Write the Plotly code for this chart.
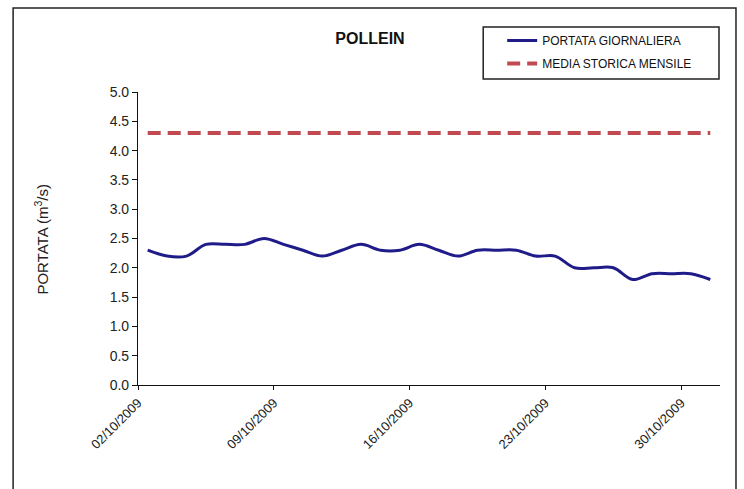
import plotly.graph_objects as go
import pandas as pd

# Daily discharge, October 2009
giorni = pd.date_range("2009-10-02", "2009-10-31", freq="D")
portata_giornaliera = [
    2.3, 2.2, 2.2, 2.4, 2.4, 2.4, 2.5, 2.4, 2.3, 2.2,
    2.3, 2.4, 2.3, 2.3, 2.4, 2.3, 2.2, 2.3, 2.3, 2.3,
    2.2, 2.2, 2.0, 2.0, 2.0, 1.8, 1.9, 1.9, 1.9, 1.8,
]
media_storica_mensile = 4.3

y_ticks = [0.0, 0.5, 1.0, 1.5, 2.0, 2.5, 3.0, 3.5, 4.0, 4.5, 5.0]
x_ticks = ["2009-10-02", "2009-10-09", "2009-10-16", "2009-10-23", "2009-10-30"]

# each daily value sits in the middle of its day
x_mid = giorni + pd.Timedelta(hours=12)

W, H = 744, 489
L, R, T, B = 137.5, 24, 92, 104
pw, ph = W - L - R, H - T - B


def px_x(p):
    return (p - L) / pw


def px_y(p):
    return (H - B - p) / ph


FONT = "Arial, Liberation Sans, sans-serif"

fig = go.Figure()
fig.add_trace(go.Scatter(
    x=x_mid, y=portata_giornaliera, mode="lines",
    name="PORTATA GIORNALIERA", legendgroup="a",
    line=dict(color="#1F1C8A", width=3, shape="spline", smoothing=1.0),
))
fig.add_trace(go.Scatter(
    x=x_mid, y=[media_storica_mensile] * len(giorni), mode="lines",
    name="MEDIA STORICA MENSILE", legendgroup="b",
    line=dict(color="#C04A50", width=4, dash="13px,7px"),
))

fig.update_layout(
    width=W, height=H,
    margin=dict(l=L, r=R, t=T, b=B),
    paper_bgcolor="white", plot_bgcolor="white",
    font=dict(family=FONT, size=12, color="#222222"),
    title=dict(
        text="<b>POLLEIN</b>", x=370 / W, xanchor="center",
        y=1 - 38 / H, yanchor="middle",
        font=dict(family=FONT, size=16, color="#111111"),
    ),
    showlegend=True,
    legend=dict(
        x=px_x(502), xanchor="left", y=px_y(26), yanchor="top",
        bgcolor="rgba(0,0,0,0)", borderwidth=0,
        font=dict(family=FONT, size=12, color="#111111"),
        tracegroupgap=4, itemwidth=30,
    ),
    xaxis=dict(
        type="date",
        range=["2009-10-02", "2009-11-01"],
        tickvals=x_ticks, tickformat="%d/%m/%Y", tickangle=-45,
        showgrid=False, zeroline=False,
        showline=True, linecolor="#111111", linewidth=1.2,
        ticks="outside", ticklen=4, tickcolor="#111111",
        tickfont=dict(family=FONT, size=13, color="#222222"),
    ),
    yaxis=dict(
        range=[0, 5], tickvals=y_ticks, tickformat=".1f",
        showgrid=False, zeroline=False,
        showline=True, linecolor="#111111", linewidth=1.2,
        ticks="outside", ticklen=5, tickcolor="#111111",
        tickfont=dict(family=FONT, size=14, color="#222222"),
    ),
    annotations=[dict(
        text="PORTATA (m<sup>3</sup>/s)", textangle=-90,
        xref="paper", yref="paper", x=px_x(40), y=px_y(239),
        xanchor="center", yanchor="middle", showarrow=False,
        font=dict(family=FONT, size=15, color="#222222"),
    )],
    shapes=[
        # outer chart frame
        dict(type="rect", xref="paper", yref="paper",
             x0=px_x(12.5), x1=px_x(736), y0=px_y(495), y1=px_y(8),
             line=dict(color="#222222", width=1.5), fillcolor="rgba(0,0,0,0)",
             layer="below"),
        # legend box
        dict(type="rect", xref="paper", yref="paper",
             x0=px_x(483), x1=px_x(719), y0=px_y(79), y1=px_y(27),
             line=dict(color="#222222", width=1.5), fillcolor="rgba(0,0,0,0)",
             layer="below"),
    ],
)

fig.write_html("out.html")
